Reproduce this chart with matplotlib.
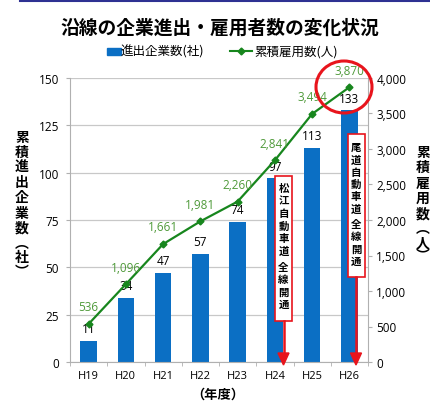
import numpy as np
import matplotlib
matplotlib.use('Agg')
import matplotlib.pyplot as plt
from matplotlib.patches import Rectangle, Ellipse, Polygon
from matplotlib.lines import Line2D

plt.rcParams['font.family'] = ['Noto Sans CJK JP', 'DejaVu Sans']

# data
years = ['H19', 'H20', 'H21', 'H22', 'H23', 'H24', 'H25', 'H26']
companies = [11, 34, 47, 57, 74, 97, 113, 133]
employees = [536, 1096, 1661, 1981, 2260, 2841, 3494, 3870]

title = '沿線の企業進出・雇用者数の変化状況'
bar_name = '進出企業数(社)'
line_name = '累積雇用数(人)'
left_label = ['累', '積', '進', '出', '企', '業', '数', '︵', '社', '︶']
right_label = ['累', '積', '雇', '用', '数', '︵', '人', '︶']
note1 = '松江自動車道全線開通'
note2 = '尾道自動車道全線開通'

W, H = 430, 406
fig = plt.figure(figsize=(W / 100, H / 100), dpi=100)

def px(x, y):
    # pixel coords (top-left origin) -> figure fraction
    return x / W, 1 - y / H

blue = '#0b6fc4'
green = '#17861d'
lgreen = '#4f9a3a'
red = '#e8141c'
gray = '#b0b0b0'
num_font = ['Open Sans', 'DejaVu Sans']

ax = fig.add_axes([70 / W, 1 - 363 / H, 298 / W, 284 / H])
x = np.arange(len(years))
ax.bar(x, companies, width=0.44, color=blue, zorder=2)
ax.set_xlim(-0.5, len(years) - 0.5)
ax.set_ylim(0, 150)
ax.set_yticks(np.arange(0, 151, 25))
ax.grid(axis='y', color='#c8c8c8', lw=0.9, zorder=0)
ax.set_xticks(x)
ax.set_xticklabels(years, fontsize=8, family=num_font)
ax.set_xticks(np.arange(-0.5, len(years)), minor=True)
ax.tick_params(axis='x', which='major', length=0, pad=6)
ax.tick_params(axis='x', which='minor', length=3, color=gray)
ax.tick_params(axis='y', length=3, color=gray, labelsize=8.5, pad=5)
for lab in ax.get_yticklabels():
    lab.set_family(num_font)
for s in ['top', 'right']:
    ax.spines[s].set_visible(False)
for s in ['left', 'bottom']:
    ax.spines[s].set_color(gray)

for xi, v in zip(x, companies):
    ax.text(xi, v + 3, str(v), ha='center', va='bottom', fontsize=8.5,
            family=num_font, zorder=5)

ax2 = ax.twinx()
ax2.set_ylim(0, 4000)
ax2.set_yticks(np.arange(0, 4001, 500))
ax2.set_yticklabels([f'{v:,}' for v in range(0, 4001, 500)], family=num_font)
ax2.plot(x, employees, color=green, lw=1.6, marker='D', ms=3.5, zorder=4)
ax2.tick_params(axis='y', length=3, color=gray, labelsize=8.5, pad=3)
for s in ['top', 'left', 'bottom']:
    ax2.spines[s].set_visible(False)
ax2.spines['right'].set_color(gray)
for xi, v in zip(x, employees):
    ax2.text(xi, v + 150, f'{v:,}', ha='center', va='bottom', fontsize=8.5,
             color=lgreen, family=num_font, zorder=5)

# top rule and title
fig.add_artist(Line2D([20 / W, 1], [1 - 1.5 / H] * 2, color='#2e3192', lw=1.5))
fig.text(*px(220, 28), title, ha='center', va='center', fontsize=13.5, weight='bold')

# legend
fig.add_artist(Rectangle(px(107, 55.5), 14 / W, 7 / H, color=blue))
fig.text(*px(121, 52), bar_name, ha='left', va='center', fontsize=9)
fig.add_artist(Line2D([230 / W, 252 / W], [1 - 52 / H] * 2, color=green, lw=1.5))
fig.add_artist(Line2D([241 / W], [1 - 52 / H], color=green, marker='D', ms=3.5))
fig.text(*px(254, 52), line_name, ha='left', va='center', fontsize=9)

# axis labels (vertical writing)
ly = [138, 153, 168, 183, 198, 214, 229, 244, 258, 272]
for ch, yy in zip(left_label, ly):
    fig.text(*px(22, yy), ch, ha='center', va='center', fontsize=10, weight='bold')
ry = [153, 168, 184, 199, 215, 229, 243, 256]
for ch, yy in zip(right_label, ry):
    fig.text(*px(423, yy), ch, ha='center', va='center', fontsize=10, weight='bold')
fig.text(*px(218, 395), '（年度）', ha='center', va='center', fontsize=9.5, weight='bold')

# annotation boxes with arrows
def note(text, xc, top, bottom, first, step):
    fig.add_artist(Rectangle(px(xc - 8.5, bottom), 17 / W, (bottom - top) / H,
                             facecolor='white', edgecolor=red, lw=1.2, zorder=6))
    for i, ch in enumerate(text):
        fig.text(*px(xc, first + i * step + (3 if i >= 6 else 0)), ch,
                 ha='center', va='center', fontsize=7.5, weight='bold', zorder=7)
    fig.add_artist(Line2D([xc / W] * 2, [1 - bottom / H, 1 - 356 / H],
                          color=red, lw=1.8, zorder=6))
    fig.add_artist(Polygon([px(xc - 5.5, 354), px(xc + 5.5, 354), px(xc, 366)],
                           closed=True, color=red, zorder=6))

note(note1, 283.5, 177, 322, 189, 12.6)
note(note2, 356, 135, 278, 148, 12.3)

# red circle
fig.add_artist(Ellipse(px(344, 88), 56 / W, 52 / H, fill=False, edgecolor=red,
                       lw=2.2, zorder=8))

fig.savefig('out.png', dpi=100)
